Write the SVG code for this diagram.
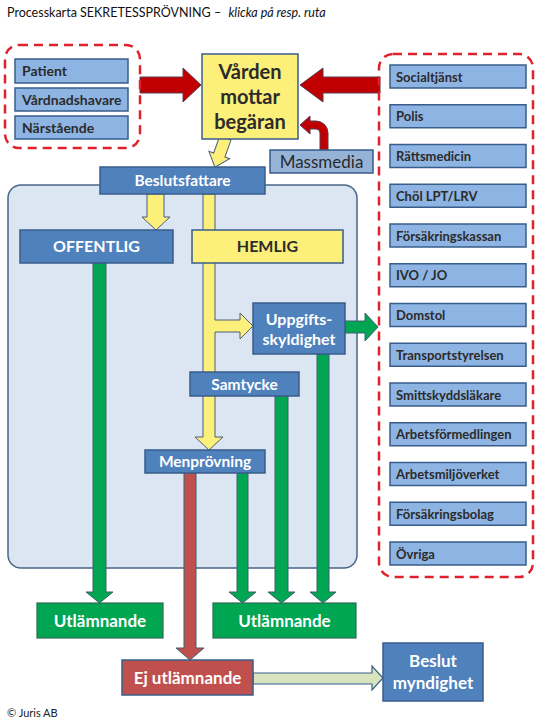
<svg xmlns="http://www.w3.org/2000/svg" width="540" height="720" viewBox="0 0 540 720">
<style>
text{font-family:Lato,"Open Sans","Liberation Sans",sans-serif;}
.blue{fill:#4F81BD;stroke:#385D8A;stroke-width:1.5;}
.lb{fill:#8EB4E3;stroke:#385D8A;stroke-width:1.5;}
.yel{fill:#FCEF7A;stroke:#385D8A;stroke-width:1.5;}
.grn{fill:#00A651;stroke:#2E6A56;stroke-width:1.2;}
.red{fill:#C0504D;stroke:#385D8A;stroke-width:1.5;}
.dash{fill:none;stroke:#E0202A;stroke-width:2.5;stroke-dasharray:9 6;}
.wt{fill:#FFFFFF;font-weight:bold;text-anchor:middle;}
.dt{fill:#2B2B2B;font-weight:bold;text-anchor:middle;}
.it{fill:#2B2B2B;font-size:13px;font-weight:bold;}
.ln{fill:#2B2B2B;font-size:14px;font-weight:bold;}
.ar-y{fill:#FCEF7A;stroke:#4A5F7A;stroke-width:1;}
.ar-g{fill:#00A651;stroke:#3F5F70;stroke-width:1;}
.ar-r{fill:#C0504D;stroke:#3F5F70;stroke-width:1;}
.ar-R{fill:#C00000;stroke:#5A3B55;stroke-width:1;}
.ar-l{fill:#D7E4BD;stroke:#385D8A;stroke-width:1.2;}
</style>
<rect width="540" height="720" fill="#FFFFFF"/>
<text x="7" y="17" style="font-size:12.5px;fill:#111;">Processkarta SEKRETESSPRÖVNING – <tspan font-style="italic" dx="4">klicka på resp. ruta</tspan></text>

<g id="panel"><rect x="8" y="185" width="349" height="383" rx="13" fill="#DCE6F2" stroke="#4A6688" stroke-width="1.5"/></g>

<g id="connectors">
<path class="ar-R" d="M140,77 L183,77 L183,68 L201,85 L183,102 L183,93 L140,93 Z"/>
<path class="ar-R" d="M380,77 L323,77 L323,68 L300,85 L323,102 L323,93 L380,93 Z"/>
<path class="ar-R" d="M320,150 L328,150 L328,133 A12 12 0 0 0 316,121 L310,121 L310,116 L300,125 L310,134 L310,129 L316,129 A4 4 0 0 1 320,133 Z"/>
<path class="ar-y" transform="translate(225,139) rotate(19.6)" d="M-6,-1 L6,-1 L6,17 L11,17 L0,30 L-11,17 L-6,17 Z"/>
<path class="ar-y" d="M147,194 L164,194 L164,217 L170,217 L156,230 L142,217 L147,217 Z"/>
<path class="ar-y" d="M203,194 L215,194 L215,320 L240,320 L240,313 L253,326 L240,339 L240,332 L215,332 L215,437 L223,437 L209,450 L195,437 L203,437 Z"/>
<path class="ar-g" d="M93,263 L106,263 L106,592 L113,592 L99.5,603 L86,592 L93,592 Z"/>
<path class="ar-g" d="M237,473 L248,473 L248,592 L256,592 L242.5,603 L229,592 L237,592 Z"/>
<path class="ar-g" d="M275,396 L288,396 L288,592 L295,592 L281.5,603 L268,592 L275,592 Z"/>
<path class="ar-g" d="M317,354 L329,354 L329,592 L336,592 L323,603 L310,592 L317,592 Z"/>
<path class="ar-g" d="M345,321 L365,321 L365,313 L378,327 L365,341 L365,333 L345,333 Z"/>
<path class="ar-r" d="M184,473 L196,473 L196,648 L204,648 L190,660 L176,648 L184,648 Z"/>
<path class="ar-l" d="M253,673 L372,673 L372,666 L383,678 L372,690 L372,684 L253,684 Z"/>
</g>

<g id="requesters">
<rect class="dash" x="5" y="45" width="135" height="103" rx="14"/>
<g id="patient"><rect class="lb" x="15" y="59" width="113" height="24"/><text class="ln" x="22" y="76">Patient</text></g>
<g id="vardnadshavare"><rect class="lb" x="15" y="88" width="113" height="23"/><text class="ln" x="22" y="104.5">Vårdnadshavare</text></g>
<g id="narstaende"><rect class="lb" x="15" y="116" width="113" height="23"/><text class="ln" x="22" y="132.5">Närstående</text></g>
</g>

<g id="varden"><rect class="yel" x="202" y="54" width="96" height="85"/>
<text class="dt" x="250" y="79" style="font-size:20px">Vården</text>
<text class="dt" x="250" y="104" style="font-size:20px">mottar</text>
<text class="dt" x="250" y="129" style="font-size:20px">begäran</text></g>

<g id="massmedia"><rect class="lb" x="270" y="150" width="103" height="23" style="fill:#95B3D7"/><text class="dt" x="321.5" y="167.5" style="font-size:17px;font-weight:normal">Massmedia</text></g>

<g id="beslutsfattare"><rect class="blue" x="100" y="167" width="165" height="27"/><text class="wt" x="182.5" y="186" style="font-size:15.5px">Beslutsfattare</text></g>
<g id="offentlig"><rect class="blue" x="20" y="230" width="153" height="33"/><text class="wt" x="96.5" y="252" style="font-size:16px">OFFENTLIG</text></g>
<g id="hemlig"><rect class="yel" x="192" y="230" width="151" height="33"/><text class="dt" x="267.5" y="252" style="font-size:16px">HEMLIG</text></g>
<g id="uppgiftsskyldighet"><rect class="blue" x="253" y="303" width="92" height="51"/><text class="wt" x="299" y="325" style="font-size:16px">Uppgifts-</text><text class="wt" x="299" y="345" style="font-size:16px">skyldighet</text></g>
<g id="samtycke"><rect class="blue" x="190" y="372" width="109" height="24"/><text class="wt" x="244.5" y="389.5" style="font-size:15.5px">Samtycke</text></g>
<g id="menprovning"><rect class="blue" x="145" y="450" width="120" height="23"/><text class="wt" x="205" y="467" style="font-size:15.5px">Menprövning</text></g>
<g id="utlamnande1"><rect class="grn" x="37" y="603" width="126" height="35"/><text class="wt" x="100" y="626.5" style="font-size:17px">Utlämnande</text></g>
<g id="utlamnande2"><rect class="grn" x="213" y="603" width="143" height="35"/><text class="wt" x="284.5" y="626.5" style="font-size:17px">Utlämnande</text></g>
<g id="ejutlamnande"><rect class="red" x="122" y="660" width="131" height="35"/><text class="wt" x="187.5" y="683.5" style="font-size:17px">Ej utlämnande</text></g>
<g id="beslutmyndighet"><rect class="blue" x="383" y="643" width="100" height="58"/><text class="wt" x="433" y="667" style="font-size:17px">Beslut</text><text class="wt" x="433" y="689" style="font-size:17px">myndighet</text></g>

<g id="recipients">
<rect class="dash" x="379" y="54" width="154" height="523" rx="14"/>
<g id="r1"><rect class="lb" x="390" y="65" width="136" height="23"/><text class="it" x="396" y="81.5">Socialtjänst</text></g>
<g id="r2"><rect class="lb" x="390" y="104.75" width="136" height="23"/><text class="it" x="396" y="121.25">Polis</text></g>
<g id="r3"><rect class="lb" x="390" y="144.5" width="136" height="23"/><text class="it" x="396" y="161">Rättsmedicin</text></g>
<g id="r4"><rect class="lb" x="390" y="184.25" width="136" height="23"/><text class="it" x="396" y="200.75">Chöl LPT/LRV</text></g>
<g id="r5"><rect class="lb" x="390" y="224" width="136" height="23"/><text class="it" x="396" y="240.5">Försäkringskassan</text></g>
<g id="r6"><rect class="lb" x="390" y="263.75" width="136" height="23"/><text class="it" x="396" y="280.25">IVO / JO</text></g>
<g id="r7"><rect class="lb" x="390" y="303.5" width="136" height="23"/><text class="it" x="396" y="320">Domstol</text></g>
<g id="r8"><rect class="lb" x="390" y="343.25" width="136" height="23"/><text class="it" x="396" y="359.75">Transportstyrelsen</text></g>
<g id="r9"><rect class="lb" x="390" y="383" width="136" height="23"/><text class="it" x="396" y="399.5">Smittskyddsläkare</text></g>
<g id="r10"><rect class="lb" x="390" y="422.75" width="136" height="23"/><text class="it" x="396" y="439.25">Arbetsförmedlingen</text></g>
<g id="r11"><rect class="lb" x="390" y="462.5" width="136" height="23"/><text class="it" x="396" y="479">Arbetsmiljöverket</text></g>
<g id="r12"><rect class="lb" x="390" y="502.25" width="136" height="23"/><text class="it" x="396" y="518.75">Försäkringsbolag</text></g>
<g id="r13"><rect class="lb" x="390" y="542" width="136" height="23"/><text class="it" x="396" y="558.5">Övriga</text></g>
</g>

<text x="7" y="717" style="font-size:11px;fill:#222;">© Juris AB</text>
</svg>
